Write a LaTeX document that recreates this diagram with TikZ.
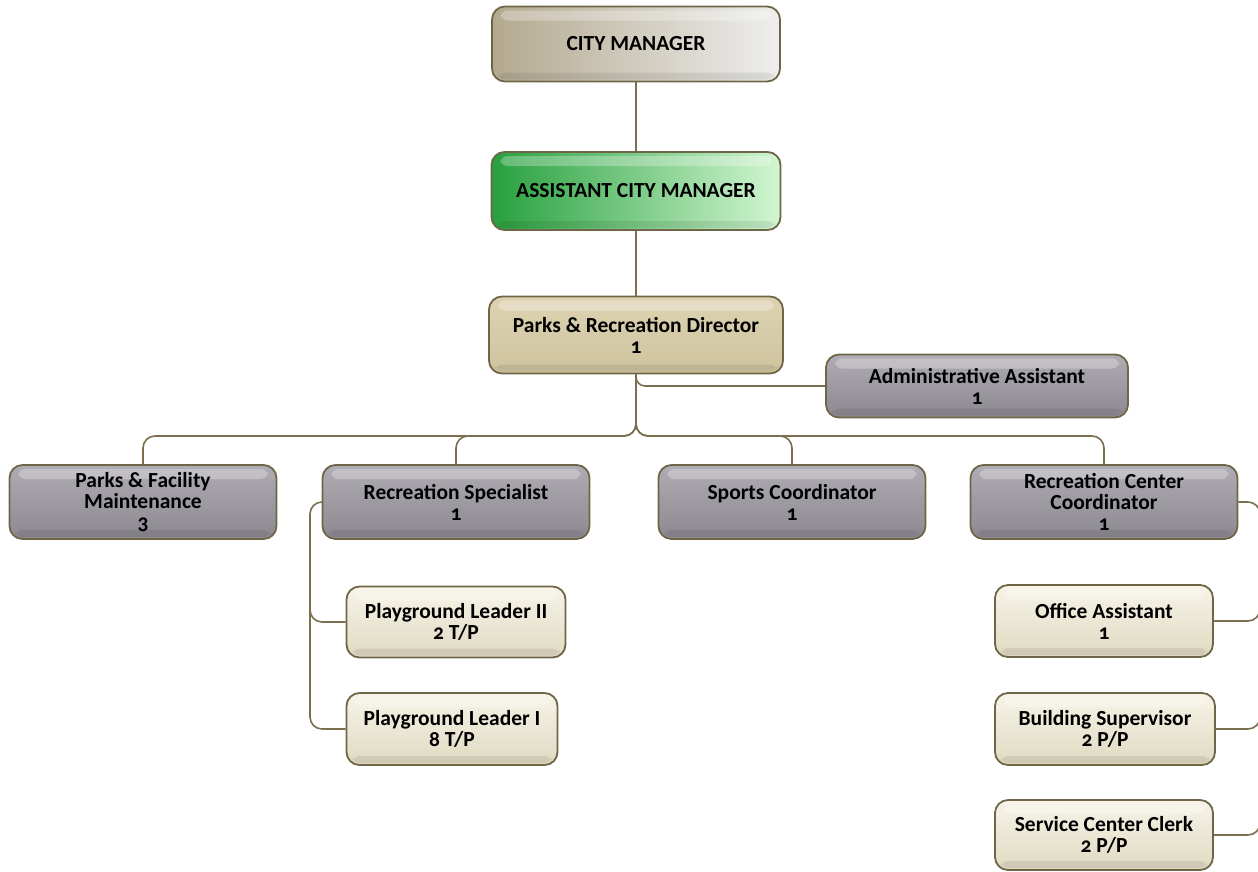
\documentclass[tikz,border=0pt]{standalone}
\usepackage{fontspec}
\setmainfont{Carlito}[Numbers=OldStyle]

\definecolor{edge}{HTML}{6F6547}
\definecolor{wire}{HTML}{7B6F4F}
\definecolor{cmL}{HTML}{B3A98F}
\definecolor{cmR}{HTML}{EEEEEE}
\definecolor{acmL}{HTML}{28A03E}
\definecolor{acmR}{HTML}{D2F6D2}
\definecolor{dirT}{HTML}{DDD3B2}
\definecolor{dirB}{HTML}{CFC39F}
\definecolor{grayT}{HTML}{B0ACB3}
\definecolor{grayB}{HTML}{8C8890}
\definecolor{creamT}{HTML}{F7F4E8}
\definecolor{creamB}{HTML}{E0DAC2}

\tikzset{
  box/.style={rounded corners=13pt, draw=edge, line width=1.8pt, align=center,
    font=\bfseries\fontsize{21.5}{21}\selectfont, inner sep=0pt,
    path picture={
      \fill[white, opacity=0.28, rounded corners=7pt]
        ([xshift=9pt,yshift=-4pt]path picture bounding box.north west)
        rectangle ([xshift=-9pt,yshift=-14pt]path picture bounding box.north east);
      \fill[black, opacity=0.08, rounded corners=7pt]
        ([xshift=6pt,yshift=9pt]path picture bounding box.south west)
        rectangle ([xshift=-6pt,yshift=2pt]path picture bounding box.south east);
    }},
  topbox/.style={box, left color=cmL, right color=cmR},
  greenbox/.style={box, left color=acmL, right color=acmR},
  dirbox/.style={box, top color=dirT, bottom color=dirB},
  graybox/.style={box, top color=grayT, bottom color=grayB},
  creambox/.style={box, top color=creamT, bottom color=creamB},
  conn/.style={draw=wire, line width=1.6pt, rounded corners=12pt},
}

\begin{document}
\begin{tikzpicture}[x=1pt, y=-1pt]
\useasboundingbox (0,0) rectangle (1258,871);

% top of the hierarchy
\node[topbox, minimum width=288pt, minimum height=75pt] (cm) at (636,44) {CITY MANAGER};
\node[greenbox, minimum width=289pt, minimum height=78pt] (acm) at (636,191) {ASSISTANT CITY MANAGER};
\node[dirbox, minimum width=294pt, minimum height=77pt] (dir) at (636,335) {Parks \& Recreation Director\\1};
\node[graybox, minimum width=302pt, minimum height=63pt] (adm) at (977,386) {Administrative Assistant\\1};

% division heads
\node[graybox, minimum width=267pt, minimum height=74pt] (pfm) at (143,502) {Parks \& Facility\\Maintenance\\3};
\node[graybox, minimum width=267pt, minimum height=74pt] (rsp) at (456,502) {Recreation Specialist\\1};
\node[graybox, minimum width=267pt, minimum height=74pt] (spc) at (792,502) {Sports Coordinator\\1};
\node[graybox, minimum width=267pt, minimum height=74pt] (rcc) at (1104,502) {Recreation Center\\Coordinator\\1};

% recreation staff
\node[creambox, minimum width=219pt, minimum height=71pt] (pl2) at (456,622) {Playground Leader II\\2 T/P};
\node[creambox, minimum width=211pt, minimum height=72pt] (pl1) at (452,729) {Playground Leader I\\8 T/P};

% recreation center staff
\node[creambox, minimum width=218pt, minimum height=72pt] (oas) at (1104,621) {Office Assistant\\1};
\node[creambox, minimum width=220pt, minimum height=72pt] (bsv) at (1105,729) {Building Supervisor\\2 P/P};
\node[creambox, minimum width=218pt, minimum height=70pt] (scc) at (1104,835) {Service Center Clerk\\2 P/P};

% trunk of the chart
\coordinate (bus) at (636,436);
\coordinate (rtop) at (1260,502);
\coordinate (rbot) at (1260,900);

\draw[conn] (cm.south) -- (acm.north);
\draw[conn] (acm.south) -- (dir.north);
\draw[conn, rounded corners=9pt] (dir.south) |- (adm.west);
\draw[conn] (dir.south) -- (bus) -| (pfm.north);
\draw[conn] (dir.south) -- (bus) -| (rsp.north);
\draw[conn] (dir.south) -- (bus) -| (spc.north);
\draw[conn] (dir.south) -- (bus) -| (rcc.north);

% recreation specialist branch on the left
\draw[conn] (rsp.west) -| (310,729) -- (pl1.west);
\draw[conn] (310,600) |- (pl2.west);

% recreation center branch on the right
\draw[conn] (rcc.east) -| (rbot);
\draw[conn] (oas.east) -| (rtop);
\draw[conn] (bsv.east) -| (rtop);
\draw[conn] (scc.east) -| (rtop);
\end{tikzpicture}
\end{document}
